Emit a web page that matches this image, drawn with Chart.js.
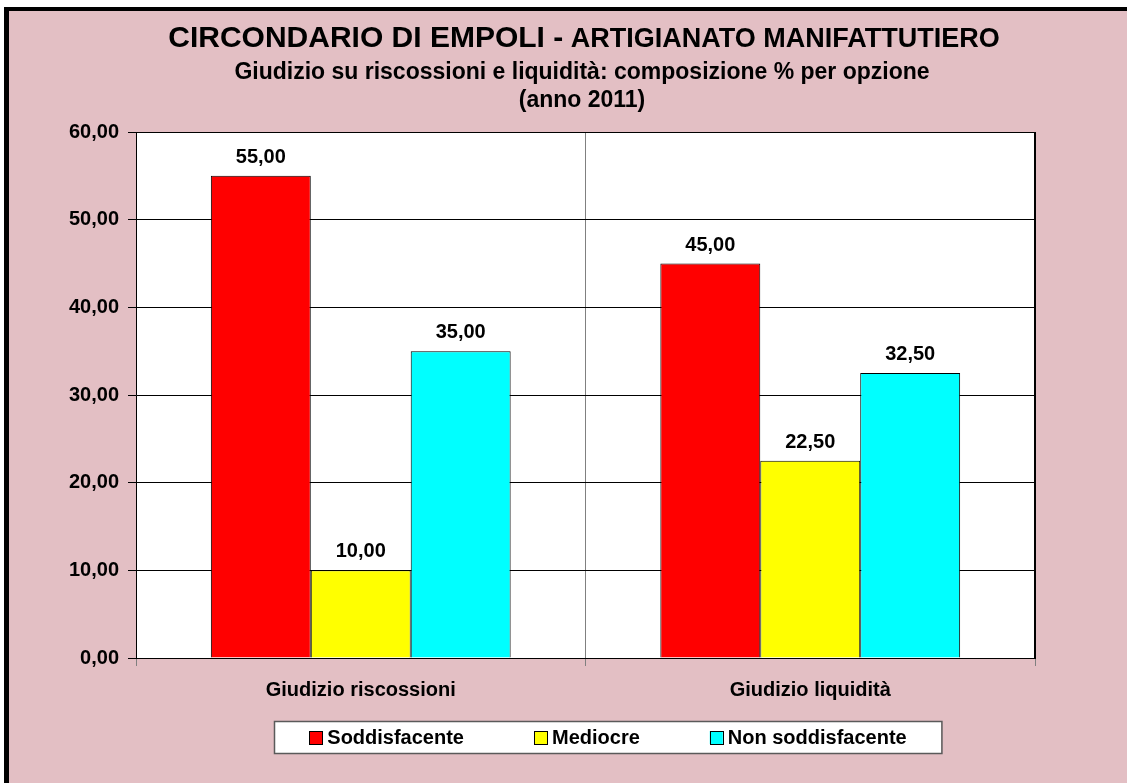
<!doctype html>
<html>

<head>
	<meta charset="utf-8">
	<title>Circondario di Empoli - Artigianato manifatturiero</title>
	<script src="https://cdn.jsdelivr.net/npm/chart.js@4.4.1/dist/chart.umd.min.js"></script>
	<style>
	body {
		margin: 0;
		background: #ffffff;
	}
	canvas {
		display: block;
	}
	</style>
</head>

<body>
	<canvas id="canvas" width="1127" height="783"></canvas>
	<script>
		// data
		var categories = ['Giudizio riscossioni', 'Giudizio liquidità'];
		var seriesNames = ['Soddisfacente', 'Mediocre', 'Non soddisfacente'];
		var soddisfacente = [55.00, 45.00];
		var mediocre = [10.00, 22.50];
		var nonSoddisfacente = [35.00, 32.50];
		var seriesColors = ['#ff0000', '#ffff00', '#00ffff'];

		var titleMain = 'CIRCONDARIO DI EMPOLI -';
		var titleSecond = ' ARTIGIANATO MANIFATTUTIERO';
		var subtitleLines = ['Giudizio su riscossioni e liquidità: composizione % per opzione', '(anno 2011)'];

		var FONT = '"Liberation Sans", Arial, sans-serif';

		function fmt(v) {
			return Number(v).toFixed(2).replace('.', ',');
		}

		// page background, outer frame and white plot area
		var backdrop = {
			id: 'backdrop',
			beforeDraw: function(chart) {
				var ctx = chart.ctx, a = chart.chartArea;
				ctx.save();
				ctx.fillStyle = '#ffffff';
				ctx.fillRect(0, 0, chart.width, chart.height);
				ctx.fillStyle = '#e3bfc4';
				ctx.fillRect(9, 11, chart.width - 9, chart.height - 11);
				ctx.fillStyle = '#000000';
				ctx.fillRect(4, 7, 5, chart.height - 7);
				ctx.fillRect(4, 7, chart.width - 4, 4);
				ctx.fillStyle = '#ffffff';
				ctx.fillRect(a.left, a.top, a.right - a.left, a.bottom - a.top);
				ctx.restore();
			},
			afterDraw: function(chart) {
				var ctx = chart.ctx, a = chart.chartArea;
				ctx.save();
				ctx.strokeStyle = '#000000';
				ctx.lineWidth = 1;
				ctx.beginPath();
				ctx.moveTo(a.left, a.top + 0.5);
				ctx.lineTo(a.right, a.top + 0.5);
				ctx.stroke();
				ctx.lineWidth = 2;
				ctx.beginPath();
				ctx.moveTo(a.right, a.top);
				ctx.lineTo(a.right, a.bottom);
				ctx.stroke();
				ctx.restore();
			}
		};

		// two-size title and subtitle lines
		var titles = {
			id: 'titles',
			afterDraw: function(chart) {
				var ctx = chart.ctx;
				var cx = 584;
				ctx.save();
				ctx.fillStyle = '#000000';
				ctx.textBaseline = 'alphabetic';
				ctx.textAlign = 'left';
				var f1 = 'bold 30px ' + FONT, f2 = 'bold 27px ' + FONT;
				ctx.font = f1;
				var w1 = ctx.measureText(titleMain).width;
				ctx.font = f2;
				var w2 = ctx.measureText(titleSecond).width;
				var x0 = cx - (w1 + w2) / 2;
				ctx.font = f1;
				ctx.fillText(titleMain, x0, 47);
				ctx.font = f2;
				ctx.fillText(titleSecond, x0 + w1, 47);

				ctx.textAlign = 'center';
				ctx.font = 'bold 23px ' + FONT;
				ctx.fillText(subtitleLines[0], 582, 79);
				ctx.fillText(subtitleLines[1], 582, 107);
				ctx.restore();
			}
		};

		// value labels above the bars
		var valueLabels = {
			id: 'valueLabels',
			afterDatasetsDraw: function(chart) {
				var ctx = chart.ctx;
				ctx.save();
				ctx.fillStyle = '#000000';
				ctx.font = 'bold 20px ' + FONT;
				ctx.textAlign = 'center';
				ctx.textBaseline = 'alphabetic';
				chart.data.datasets.forEach(function(ds, i) {
					chart.getDatasetMeta(i).data.forEach(function(bar, j) {
						ctx.fillText(fmt(ds.data[j]), bar.x, bar.y - 13);
					});
				});
				ctx.restore();
			}
		};

		// boxed legend under the axis
		var boxLegend = {
			id: 'boxLegend',
			afterDraw: function(chart) {
				var ctx = chart.ctx;
				var sq = 13, gapText = 5, gapItem = 70;
				ctx.save();
				ctx.font = 'bold 20px ' + FONT;
				var widths = chart.data.datasets.map(function(ds) {
					return ctx.measureText(ds.label).width;
				});
				var total = 0;
				widths.forEach(function(w, i) {
					total += sq + gapText + w + (i > 0 ? gapItem : 0);
				});
				var boxW = total + 70, cx = 608;
				var bx = Math.round(cx - boxW / 2), by = 721, bh = 32;
				ctx.fillStyle = '#ffffff';
				ctx.fillRect(bx, by, boxW, bh);
				ctx.strokeStyle = '#5a5a5a';
				ctx.lineWidth = 1.5;
				ctx.strokeRect(bx + 0.5, by + 0.5, boxW, bh);

				var x = cx - total / 2;
				chart.data.datasets.forEach(function(ds, i) {
					ctx.fillStyle = ds.backgroundColor;
					ctx.fillRect(x, 731, sq, sq);
					ctx.strokeStyle = '#000000';
					ctx.lineWidth = 1;
					ctx.strokeRect(Math.round(x) + 0.5, 731.5, sq, sq);
					ctx.fillStyle = '#000000';
					ctx.textAlign = 'left';
					ctx.textBaseline = 'alphabetic';
					ctx.fillText(ds.label, x + sq + gapText, 744);
					x += sq + gapText + widths[i] + gapItem;
				});
				ctx.restore();
			}
		};

		var barData = {
			labels: categories,
			datasets: [soddisfacente, mediocre, nonSoddisfacente].map(function(values, i) {
				return {
					label: seriesNames[i],
					data: values,
					backgroundColor: seriesColors[i],
					borderColor: '#000000',
					borderWidth: 1,
					borderSkipped: 'bottom',
					categoryPercentage: 0.667,
					barPercentage: 1.0
				};
			})
		};

		window.onload = function() {
			var ctx = document.getElementById('canvas').getContext('2d');
			window.myBar = new Chart(ctx, {
				type: 'bar',
				data: barData,
				plugins: [backdrop, valueLabels, titles, boxLegend],
				options: {
					responsive: false,
					animation: false,
					devicePixelRatio: 1,
					layout: {
						padding: { top: 132, right: 92, bottom: 75, left: 0 }
					},
					plugins: {
						legend: { display: false },
						title: { display: false },
						tooltip: { enabled: false }
					},
					scales: {
						x: {
							grid: {
								offset: true,
								color: '#808080',
								tickColor: '#808080',
								tickLength: 8,
								lineWidth: 1
							},
							border: { display: true, color: '#000000', width: 1 },
							ticks: {
								color: '#000000',
								padding: 12,
								font: { family: FONT, size: 20, weight: 'bold' }
							},
							afterFit: function(scale) {
								scale.height = 50;
							}
						},
						y: {
							min: 0,
							max: 60,
							ticks: {
								stepSize: 10,
								color: '#000000',
								padding: 9,
								font: { family: FONT, size: 20, weight: 'bold' },
								callback: function(v) {
									return fmt(v);
								}
							},
							grid: {
								color: '#000000',
								tickColor: '#000000',
								tickLength: 8,
								lineWidth: 1
							},
							border: { display: true, color: '#000000', width: 1 },
							afterFit: function(scale) {
								scale.width = 136;
							}
						}
					}
				}
			});
		};
	</script>

</body>

</html>
